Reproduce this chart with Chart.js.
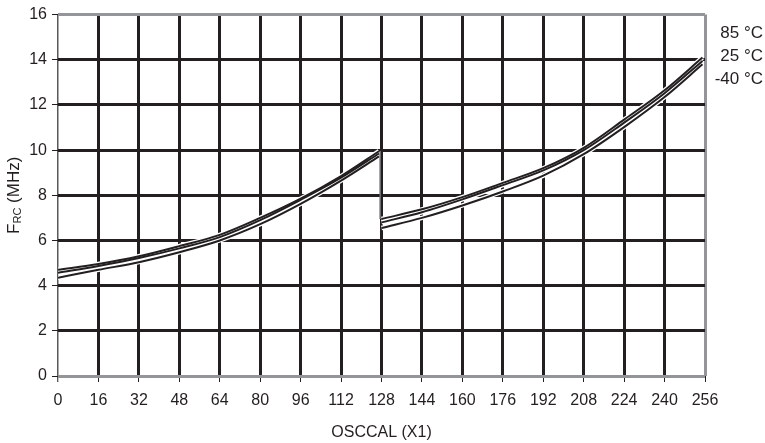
<!DOCTYPE html>
<html>
<head>
<meta charset="utf-8">
<script src="https://cdn.jsdelivr.net/npm/chart.js@4"></script>
<style>
  html, body { margin: 0; padding: 0; background: #fff; }
  #wrap { width: 765px; height: 443px; }
</style>
</head>
<body>
<div id="wrap"><canvas id="osc"></canvas></div>
<script>
(
    async function () {
        // OSCCAL values, lower and upper half of the range
        const osc1 = [0, 16, 32, 48, 64, 80, 96, 112, 127];
        const osc2 = [128, 144, 160, 176, 192, 208, 224, 240, 255];

        // frequency in MHz
        const f85a = [4.70, 4.96, 5.30, 5.75, 6.25, 7.00, 7.85, 8.85, 9.95];
        const f25a = [4.57, 4.87, 5.22, 5.65, 6.15, 6.90, 7.80, 8.78, 9.85];
        const fm40a = [4.35, 4.70, 5.04, 5.48, 6.00, 6.72, 7.62, 8.65, 9.72];

        const f85b = [6.95, 7.38, 7.92, 8.55, 9.20, 10.10, 11.35, 12.65, 14.10];
        const f25b = [6.80, 7.25, 7.82, 8.45, 9.10, 10.00, 11.22, 12.52, 13.95];
        const fm40b = [6.55, 7.00, 7.55, 8.17, 8.87, 9.82, 11.02, 12.35, 13.80];

        const tempLabels = ["85 °C", "25 °C", "-40 °C"];
        const xTicks = [0, 16, 32, 48, 64, 80, 96, 112, 128, 144, 160, 176, 192, 208, 224, 240, 256];
        const yTicks = [0, 2, 4, 6, 8, 10, 12, 14, 16];

        const ink = '#231f20';
        const edge = '#939598';
        const font = "'Liberation Sans', Arial, sans-serif";

        function curve(a, b) {
            const p = osc1.map((x, i) => ({ x: x, y: a[i] }));
            p.push({ x: 127.5, y: null });
            return p.concat(osc2.map((x, i) => ({ x: x, y: b[i] })));
        }

        const series = [[f85a, f85b], [f25a, f25b], [fm40a, fm40b]];
        const datasets = [];
        series.forEach((s, k) => {
            datasets.push({
                type: 'line',
                label: tempLabels[k],
                data: curve(s[0], s[1]),
                borderColor: ink,
                borderWidth: 2,
                pointRadius: 0,
                cubicInterpolationMode: 'monotone',
                spanGaps: false,
                order: 1
            });
            datasets.push({
                type: 'line',
                label: tempLabels[k] + ' halo',
                data: curve(s[0], s[1]),
                borderColor: '#ffffff',
                borderWidth: 4.5,
                pointRadius: 0,
                cubicInterpolationMode: 'monotone',
                spanGaps: false,
                order: 2
            });
        });
        // the drop where OSCCAL wraps from 127 to 128
        datasets.push({
            type: 'line',
            label: 'drop',
            data: [{ x: 127.5, y: f85a[f85a.length - 1] }, { x: 127.5, y: f85b[0] }],
            borderColor: '#6d6e71',
            borderWidth: 1,
            pointRadius: 0,
            order: 0
        });

        const extras = {
            id: 'extras',
            afterDraw(chart) {
                const ctx = chart.ctx;
                const area = chart.chartArea;
                ctx.save();
                ctx.fillStyle = ink;

                // x title
                ctx.font = "16px " + font;
                ctx.textAlign = 'center';
                ctx.textBaseline = 'middle';
                ctx.fillText('OSCCAL (X1)', (area.left + area.right) / 2, 433);

                // y title with subscript
                ctx.save();
                ctx.translate(14, (area.top + area.bottom) / 2);
                ctx.rotate(-Math.PI / 2);
                ctx.textAlign = 'left';
                ctx.textBaseline = 'middle';
                ctx.font = "17px " + font;
                const wF = ctx.measureText('F').width;
                ctx.font = "11px " + font;
                const wRC = ctx.measureText('RC').width;
                ctx.font = "17px " + font;
                const wRest = ctx.measureText(' (MHz)').width;
                let x0 = -(wF + wRC + wRest) / 2;
                ctx.fillText('F', x0, 0);
                ctx.font = "11px " + font;
                ctx.fillText('RC', x0 + wF, 4);
                ctx.font = "17px " + font;
                ctx.fillText(' (MHz)', x0 + wF + wRC, 0);
                ctx.restore();

                // temperature labels at the right
                ctx.font = "17px " + font;
                ctx.textAlign = 'right';
                ctx.textBaseline = 'middle';
                tempLabels.forEach((t, i) => {
                    ctx.fillText(t, 763, 33 + i * 23);
                });
                ctx.restore();
            }
        };

        new Chart(
            document.getElementById("osc"),
            {
                data: { datasets: datasets },
                options: {
                    responsive: true,
                    maintainAspectRatio: false,
                    animation: false,
                    layout: { padding: { top: 6, right: 60, left: 0, bottom: 0 } },
                    plugins: {
                        legend: { display: false },
                        tooltip: { enabled: false }
                    },
                    scales: {
                        x: {
                            type: 'linear',
                            min: 0,
                            max: 256,
                            afterBuildTicks: scale => { scale.ticks = xTicks.map(v => ({ value: v })); },
                            afterFit: scale => { scale.height = 67; },
                            border: { display: false },
                            grid: {
                                color: c => (c.index === 0 ? '#58595b' : (c.index === xTicks.length - 1 ? edge : ink)),
                                lineWidth: c => (c.index === 0 ? 1.5 : 3),
                                tickColor: ink,
                                tickWidth: 1,
                                tickLength: 6
                            },
                            ticks: {
                                color: ink,
                                padding: 9,
                                maxRotation: 0,
                                font: { family: font, size: 16 }
                            }
                        },
                        y: {
                            type: 'linear',
                            min: 0,
                            max: 16,
                            afterBuildTicks: scale => { scale.ticks = yTicks.map(v => ({ value: v })); },
                            afterFit: scale => { scale.width = 58; },
                            border: { display: false },
                            grid: {
                                color: c => (c.index === 0 || c.index === yTicks.length - 1 ? edge : ink),
                                lineWidth: 3,
                                tickColor: ink,
                                tickWidth: 1,
                                tickLength: 6
                            },
                            ticks: {
                                color: ink,
                                padding: 5,
                                font: { family: font, size: 16 }
                            }
                        }
                    }
                },
                plugins: [extras]
            }
        );
    })();
</script>
</body>
</html>
